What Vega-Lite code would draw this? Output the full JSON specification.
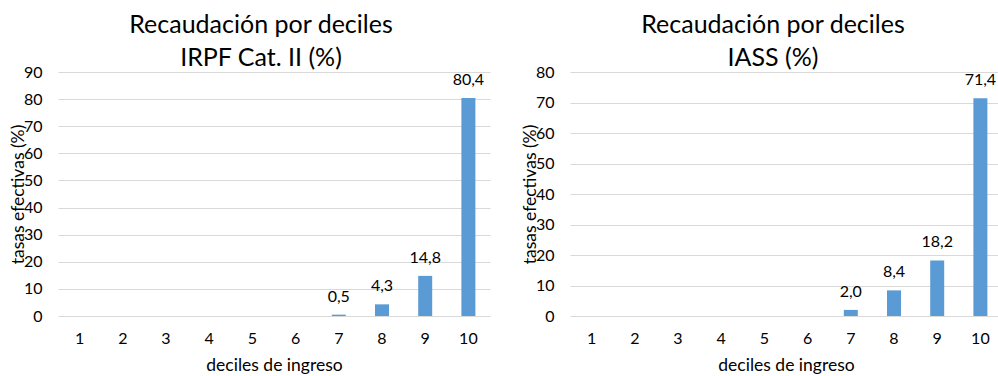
{
  "$schema": "https://vega.github.io/schema/vega-lite/v6.json",
  "background": "white",
  "padding": {"left": 9, "top": 13, "right": 0, "bottom": 0},
  "config": {
    "view": {"stroke": null},
    "font": "Lato",
    "locale": {"number": {"decimal": ",", "thousands": ".", "grouping": [3], "currency": ["", " €"]}},
    "axis": {"labelFont": "Lato", "titleFont": "Lato", "labelColor": "#000000", "titleColor": "#000000", "labelFontSize": 16, "titleFontSize": 17.5, "titleFontWeight": "normal"},
    "title": {"font": "Lato", "fontSize": 25, "fontWeight": "normal", "color": "#000000"}
  },
  "datasets": {
    "irpf": [
      {"decil": "1", "value": 0}, {"decil": "2", "value": 0}, {"decil": "3", "value": 0},
      {"decil": "4", "value": 0}, {"decil": "5", "value": 0}, {"decil": "6", "value": 0},
      {"decil": "7", "value": 0.5}, {"decil": "8", "value": 4.3}, {"decil": "9", "value": 14.8},
      {"decil": "10", "value": 80.4}
    ],
    "iass": [
      {"decil": "1", "value": 0}, {"decil": "2", "value": 0}, {"decil": "3", "value": 0},
      {"decil": "4", "value": 0}, {"decil": "5", "value": 0}, {"decil": "6", "value": 0},
      {"decil": "7", "value": 2.0}, {"decil": "8", "value": 8.4}, {"decil": "9", "value": 18.2},
      {"decil": "10", "value": 71.4}
    ]
  },
  "spacing": 31,
  "hconcat": [
    {
      "width": 432,
      "height": 244,
      "data": {"name": "irpf"},
      "title": {"text": ["Recaudación por deciles", "IRPF Cat. II (%)"], "anchor": "middle", "dx": -13, "offset": -7, "lineHeight": 33},
      "encoding": {
        "x": {"field": "decil", "type": "ordinal", "sort": null,
          "scale": {"paddingInner": 0.676, "paddingOuter": 0.338},
          "axis": {"title": "deciles de ingreso", "labelAngle": 0, "domain": false, "ticks": false, "labelPadding": 14, "titlePadding": 10}},
        "y": {"field": "value", "type": "quantitative",
          "scale": {"domain": [0, 90], "nice": false},
          "axis": {"title": "tasas efectivas (%)", "values": [0,10,20,30,40,50,60,70,80,90], "domain": false, "ticks": false, "labelPadding": 16, "titlePadding": -4, "gridColor": "#D9D9D9", "gridWidth": 1}}
      },
      "layer": [
        {"mark": {"type": "bar", "color": "#5B9BD5"}},
        {"transform": [{"filter": "datum.value > 0"}],
          "mark": {"type": "text", "baseline": "alphabetic", "dy": -13, "fontSize": 16, "color": "#000000"},
          "encoding": {"text": {"field": "value", "type": "quantitative", "format": ".1f"}}}
      ]
    },
    {
      "width": 432,
      "height": 244,
      "data": {"name": "iass"},
      "title": {"text": ["Recaudación por deciles", "IASS (%)"], "anchor": "middle", "dx": -13, "offset": -7, "lineHeight": 33},
      "encoding": {
        "x": {"field": "decil", "type": "ordinal", "sort": null,
          "scale": {"paddingInner": 0.676, "paddingOuter": 0.338},
          "axis": {"title": "deciles de ingreso", "labelAngle": 0, "domain": false, "ticks": false, "labelPadding": 14, "titlePadding": 10}},
        "y": {"field": "value", "type": "quantitative",
          "scale": {"domain": [0, 80], "nice": false},
          "axis": {"title": "tasas efectivas (%)", "values": [0,10,20,30,40,50,60,70,80], "domain": false, "ticks": false, "labelPadding": 16, "titlePadding": -4, "gridColor": "#D9D9D9", "gridWidth": 1}}
      },
      "layer": [
        {"mark": {"type": "bar", "color": "#5B9BD5"}},
        {"transform": [{"filter": "datum.value > 0"}],
          "mark": {"type": "text", "baseline": "alphabetic", "dy": -13, "fontSize": 16, "color": "#000000"},
          "encoding": {"text": {"field": "value", "type": "quantitative", "format": ".1f"}}}
      ]
    }
  ]
}
